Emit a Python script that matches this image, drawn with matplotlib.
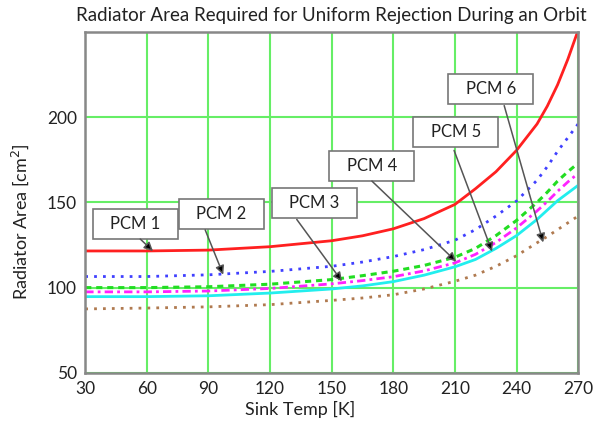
import numpy as np
import matplotlib.pyplot as plt
from matplotlib.patches import Rectangle

plt.rcParams['font.family'] = ['Lato', 'DejaVu Sans']

# sink temperature [K]
temp = [30, 60, 90, 120, 150, 165, 180, 195, 210, 220, 230, 240, 250, 255, 260, 265, 270]

# radiator area [cm^2]
pcm1 = [121.5, 121.5, 122, 124, 127.5, 130.4, 134.5, 140.5, 148.8, 158, 168, 180.5, 196, 206.5, 219, 234, 251]
pcm2 = [106.5, 106.5, 107.5, 109.5, 112.5, 115, 118.2, 122.3, 127.8, 134, 142, 150.8, 163, 171, 180, 188, 196]
pcm3 = [100, 100, 100.5, 102, 104.7, 107, 109.6, 113, 117.8, 123, 130.5, 139.4, 150, 156, 162.5, 168, 173]
pcm4 = [97.5, 97.5, 98, 99.5, 102.2, 104.1, 106.4, 109.8, 114.5, 119.5, 126.5, 135, 145, 150.5, 156.5, 162, 167]
pcm5 = [94.7, 94.7, 95.2, 96.8, 99.2, 101, 103.5, 107.3, 112.2, 116.5, 123, 130.5, 140, 145.5, 151, 155.5, 160]
pcm6 = [87.5, 88, 88.7, 90, 92.5, 93.9, 95.8, 99.2, 103.7, 107.3, 112.5, 118.7, 126.3, 130, 134, 138, 142]

labels = ['PCM 1', 'PCM 2', 'PCM 3', 'PCM 4', 'PCM 5', 'PCM 6']
# callout box centres, arrow starts and arrow tips (data coords)
box_xy = [(54.3, 137.6), (96.2, 142.9), (141.5, 149.4), (169.5, 171.5), (210.4, 191.2), (227.4, 216.5)]
arr_from = [(56.8, 128.5), (88.4, 133.9), (133, 140), (169.6, 162.5), (209.6, 180.5), (234, 206.8)]
arr_to = [(63, 121.4), (97.2, 107.6), (155, 103.7), (210.6, 115.3), (228.1, 121.2), (253, 126.5)]
box_w, box_h = 41.4, 17.6

fig, ax = plt.subplots(figsize=(5.96, 4.32), dpi=100)
fig.subplots_adjust(left=0.143, right=0.970, top=0.926, bottom=0.137)

ax.plot(temp, pcm1, color='#ff2020', lw=2, ls='-')
ax.plot(temp, pcm2, color='#4040ff', lw=2, ls=(0, (1, 2.2)))
ax.plot(temp, pcm3, color='#22dd22', lw=2.2, ls=(0, (2, 1.6)))
ax.plot(temp, pcm4, color='#ff22ff', lw=2, ls=(0, (3, 1.5, 1, 1.5)))
ax.plot(temp, pcm5, color='#22eeee', lw=2, ls='-')
ax.plot(temp, pcm6, color='#b07a50', lw=2, ls=(0, (1, 2.2)))

ax.set_xlim(30, 270)
ax.set_ylim(50, 250)
ax.set_xticks(np.arange(30, 271, 30))
ax.set_yticks([50, 100, 150, 200])
ax.grid(True, color='#66ee66', lw=1.5)
ax.tick_params(length=0, labelsize=12.5, colors='#222222', pad=6)
for s in ax.spines.values():
    s.set_color('#888888')
    s.set_linewidth(1.8)

ax.set_title('Radiator Area Required for Uniform Rejection During an Orbit',
             fontsize=13.5, color='#222222', pad=8)
ax.set_xlabel('Sink Temp [K]', fontsize=13, color='#222222')
ax.set_ylabel('Radiator Area [cm$^2$]', fontsize=13, color='#222222')
ax.xaxis.set_label_coords(0.436, -0.082)
ax.yaxis.set_label_coords(-0.11, 0.443)

for lab, (cx, cy), p0, p1 in zip(labels, box_xy, arr_from, arr_to):
    ax.add_patch(Rectangle((cx - box_w / 2, cy - box_h / 2), box_w, box_h,
                           fc='white', ec='#777777', lw=1.2, zorder=5))
    ax.text(cx, cy, lab, fontsize=12, color='#222222', ha='center', va='center', zorder=6)
    ax.annotate('', xy=p1, xytext=p0, zorder=6,
                arrowprops=dict(arrowstyle='-|>', color='#777777', lw=1.1,
                                mutation_scale=13, fc='black', ec='#555555',
                                shrinkA=0, shrinkB=0))

fig.savefig('out.png', dpi=100)
